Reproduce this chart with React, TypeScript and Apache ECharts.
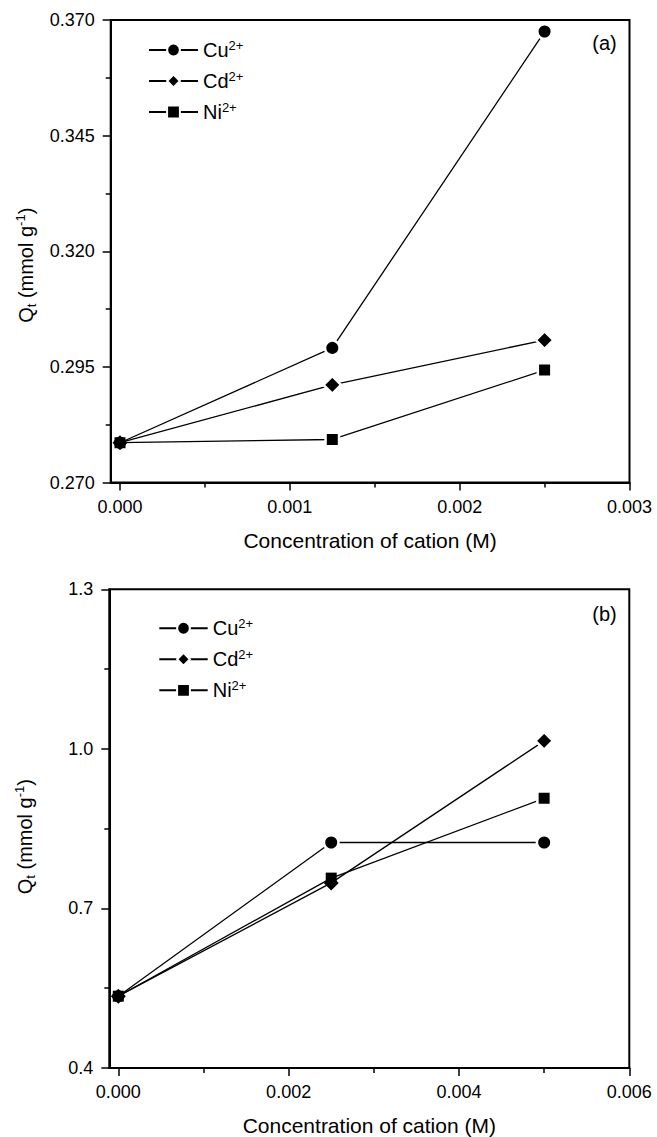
import React, { useEffect, useRef } from "react";
import * as echarts from "echarts";

// ---------- data ----------
const ionNames = ["Cu", "Cd", "Ni"];
const ionSymbols = ["circle", "diamond", "rect"];

const concA = [0, 0.00125, 0.0025];
const cuA = [0.2786, 0.2991, 0.3675];
const cdA = [0.2786, 0.2911, 0.3008];
const niA = [0.2786, 0.2793, 0.2943];

const concB = [0, 0.0025, 0.005];
const cuB = [0.535, 0.824, 0.824];
const cdB = [0.535, 0.748, 1.015];
const niB = [0.535, 0.757, 0.907];

const xTicksA = [0, 0.001, 0.002, 0.003];
const xMinorA = [0.0005, 0.0015, 0.0025];
const yTicksA = [0.27, 0.295, 0.32, 0.345, 0.37];
const yMinorA = [0.2825, 0.3075, 0.3325, 0.3575];

const xTicksB = [0, 0.002, 0.004, 0.006];
const xMinorB = [0.001, 0.003, 0.005];
const yTicksB = [0.4, 0.7, 1.0, 1.3];
const yMinorB = [0.55, 0.85, 1.15];

const xTitle = "Concentration of cation (M)";
const panelLabels = ["(a)", "(b)"];

// ---------- styling ----------
const FONT = "'Liberation Sans', Arial, Helvetica, sans-serif";
const BLACK = "#000";
const BW = 2.5;
const visSize: Record<string, number> = { circle: 12, diamond: 15, rect: 11 };

const gridA = { left: 110.7, top: 20, width: 518.8, height: 462.5 };
const gridB = { left: 109.3, top: 589.3, width: 520, height: 479 };

function mainX(gridIndex: number, min: number, max: number, ticks: number[]) {
  return {
    type: "value",
    gridIndex,
    min,
    max,
    position: "bottom",
    name: xTitle,
    nameLocation: "middle",
    nameGap: 47,
    nameTextStyle: { fontSize: 21, color: BLACK, fontFamily: FONT },
    axisLine: { show: true, onZero: false, lineStyle: { color: BLACK, width: 2 } },
    axisTick: { show: true, customValues: ticks, length: 8, lineStyle: { color: BLACK, width: 1.5 } },
    axisLabel: {
      show: true,
      customValues: ticks,
      margin: 15,
      fontSize: 18,
      color: BLACK,
      fontFamily: FONT,
      formatter: (v: number) => v.toFixed(3),
    },
    splitLine: { show: false },
    z: 5,
  };
}

function minorX(gridIndex: number, min: number, max: number, ticks: number[]) {
  return {
    type: "value",
    gridIndex,
    min,
    max,
    position: "bottom",
    axisLine: { show: false, onZero: false },
    axisTick: { show: true, customValues: ticks, length: 5, lineStyle: { color: BLACK, width: 1.5 } },
    axisLabel: { show: false },
    splitLine: { show: false },
    z: 5,
  };
}

function mainY(gridIndex: number, min: number, max: number, ticks: number[], digits: number, gap: number, pad: number) {
  return {
    type: "value",
    gridIndex,
    min,
    max,
    position: "left",
    name: "{q|Q}{sub|t}{q| (mmol g}{sup|-1}{q|)}",
    nameLocation: "middle",
    nameGap: gap,
    nameTextStyle: {
      color: BLACK,
      fontFamily: FONT,
      padding: [0, pad, 0, 0],
      rich: {
        q: { fontSize: 20, lineHeight: 24, color: BLACK, fontFamily: FONT },
        sub: { fontSize: 13, lineHeight: 13, verticalAlign: "bottom", color: BLACK, fontFamily: FONT },
        sup: { fontSize: 13, lineHeight: 13, verticalAlign: "top", color: BLACK, fontFamily: FONT },
      },
    },
    axisLine: { show: true, onZero: false, lineStyle: { color: BLACK, width: 2 } },
    axisTick: { show: true, customValues: ticks, length: 8, lineStyle: { color: BLACK, width: 1.5 } },
    axisLabel: {
      show: true,
      customValues: ticks,
      margin: 16,
      fontSize: 18,
      color: BLACK,
      fontFamily: FONT,
      formatter: (v: number) => v.toFixed(digits),
    },
    splitLine: { show: false },
    z: 5,
  };
}

function minorY(gridIndex: number, min: number, max: number, ticks: number[]) {
  return {
    type: "value",
    gridIndex,
    min,
    max,
    position: "left",
    axisLine: { show: false, onZero: false },
    axisTick: { show: true, customValues: ticks, length: 5, lineStyle: { color: BLACK, width: 1.5 } },
    axisLabel: { show: false },
    splitLine: { show: false },
    z: 5,
  };
}

function makeSeries(
  name: string,
  sym: string,
  xs: number[],
  ys: number[],
  xAxisIndex: number,
  yAxisIndex: number,
  plain: number[]
) {
  const v = visSize[sym];
  return {
    type: "line",
    name,
    xAxisIndex,
    yAxisIndex,
    symbol: sym,
    symbolSize: v + BW,
    lineStyle: { color: BLACK, width: 1.3 },
    itemStyle: { color: BLACK, borderColor: "#fff", borderWidth: BW },
    emphasis: { disabled: true },
    data: xs.map((x, i) =>
      plain.includes(i)
        ? { value: [x, ys[i]], symbolSize: v, itemStyle: { borderWidth: 0 } }
        : [x, ys[i]]
    ),
    z: 2,
  };
}

function makeLegend(left: number, top: number, itemWidth: number) {
  return {
    orient: "vertical",
    left,
    top,
    padding: 0,
    itemWidth,
    itemHeight: 16,
    itemGap: 10,
    selectedMode: false,
    data: ionNames,
    formatter: (n: string) => `{n|${n}}{s|2+}`,
    textStyle: {
      color: BLACK,
      fontFamily: FONT,
      rich: {
        n: { fontSize: 20, lineHeight: 22, color: BLACK, fontFamily: FONT },
        s: { fontSize: 13, lineHeight: 13, verticalAlign: "top", color: BLACK, fontFamily: FONT },
      },
    },
  };
}

export default function App() {
  const ref = useRef<HTMLDivElement>(null);
  useEffect(() => {
    if (!ref.current) return;
    const chart = echarts.init(ref.current, null, { renderer: "svg" });
    const xMinA = -0.0000548;
    const xMinB = -0.0001057;
    const seriesA = [cuA, cdA, niA];
    const seriesB = [cuB, cdB, niB];
    const series: any[] = [];
    ionNames.forEach((n, i) => {
      series.push(makeSeries(n, ionSymbols[i], concA, seriesA[i], 0, 0, [0]));
    });
    ionNames.forEach((n, i) => {
      series.push(makeSeries(n, ionSymbols[i], concB, seriesB[i], 2, 2, i === 0 ? [0] : [0, 1]));
    });
    chart.setOption({
      animation: false,
      backgroundColor: "#fff",
      textStyle: { fontFamily: FONT },
      grid: [
        { ...gridA, show: true, borderColor: BLACK, borderWidth: 2, backgroundColor: "transparent" },
        { ...gridB, show: true, borderColor: BLACK, borderWidth: 2, backgroundColor: "transparent" },
      ],
      xAxis: [
        mainX(0, xMinA, 0.003, xTicksA),
        minorX(0, xMinA, 0.003, xMinorA),
        mainX(1, xMinB, 0.006, xTicksB),
        minorX(1, xMinB, 0.006, xMinorB),
      ],
      yAxis: [
        mainY(0, 0.27, 0.37, yTicksA, 3, 73, 28),
        minorY(0, 0.27, 0.37, yMinorA),
        mainY(1, 0.4, 1.3, yTicksB, 1, 72, 16),
        minorY(1, 0.4, 1.3, yMinorB),
      ],
      legend: [makeLegend(148, 39, 49), makeLegend(158.3, 617.3, 48.4)],
      graphic: [
        {
          type: "text",
          x: 604.5,
          y: 43,
          style: { text: panelLabels[0], fontSize: 20, fill: BLACK, fontFamily: FONT, align: "center", verticalAlign: "middle" },
        },
        {
          type: "text",
          x: 604.5,
          y: 614,
          style: { text: panelLabels[1], fontSize: 20, fill: BLACK, fontFamily: FONT, align: "center", verticalAlign: "middle" },
        },
      ],
      series,
    });
    return () => chart.dispose();
  }, []);
  return (
    <div
      ref={ref}
      style={{ position: "absolute", left: 0, top: 0, width: 657, height: 1137, background: "#fff" }}
    />
  );
}
